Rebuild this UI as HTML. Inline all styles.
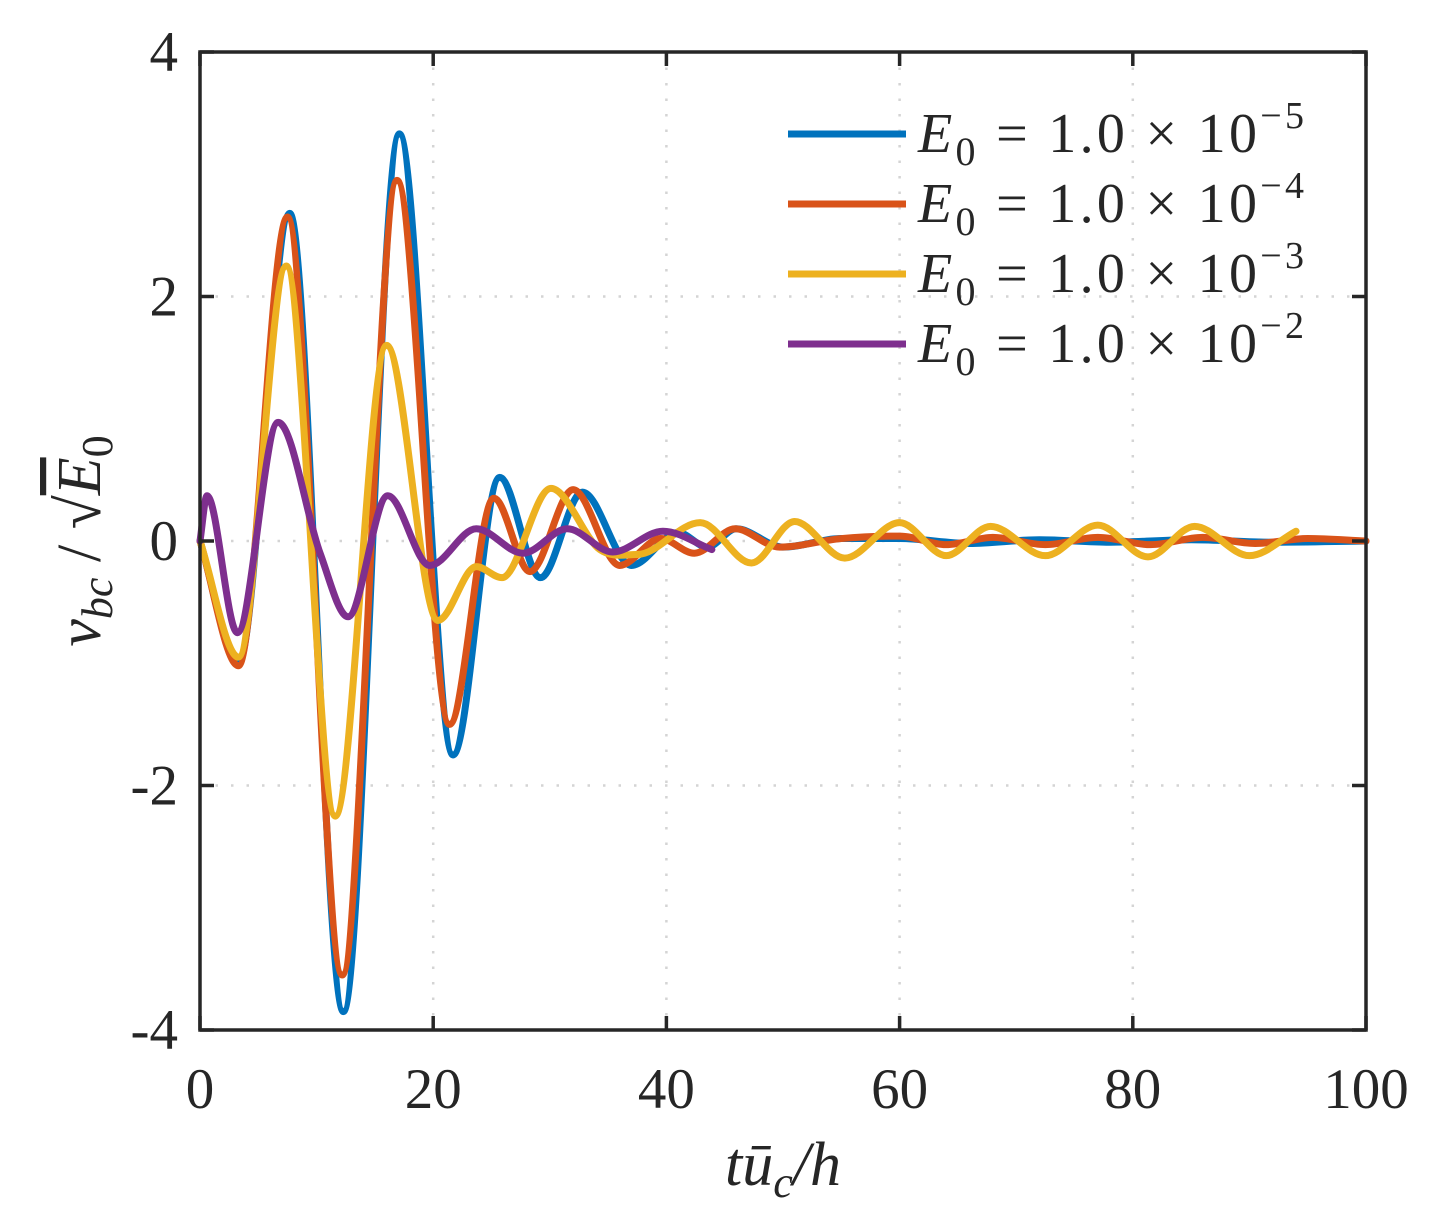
<!DOCTYPE html>
<html><head><meta charset="utf-8"><style>
html,body{margin:0;padding:0;background:#fff;}
svg{display:block;}
text{font-family:"Liberation Serif","DejaVu Serif",serif;fill:#262626;}
</style></head><body>
<svg id="chart" width="1431" height="1230" viewBox="0 0 1431 1230" xmlns="http://www.w3.org/2000/svg">
<g id="grid"></g>
<g id="series"></g>
<g id="axes"></g>
<g id="legend"></g>
<text x="783" y="1185" text-anchor="middle" font-size="62" font-style="italic">tū<tspan font-size="44" dy="12">c</tspan><tspan dy="-12">/h</tspan></text>
<g transform="translate(100,541) rotate(-90)">
<text x="0" y="0" text-anchor="middle" font-size="62" font-style="italic">v<tspan font-size="44" dy="12">bc</tspan><tspan dy="-12" font-style="normal"> / √</tspan><tspan text-decoration="overline">E</tspan><tspan font-size="44" dy="12" font-style="normal">0</tspan></text>
</g>
</svg>
<script>
const xTicks=[0,20,40,60,80,100];
const yTicks=[-4,-2,0,2,4];
const seriesNames=["E0=1e-5","E0=1e-4","E0=1e-3","E0=1e-2"];
const seriesColors=["#0072BD","#D95319","#EDB120","#7E2F8E"];
const legendExps=["−5","−4","−3","−2"];
const blueX=[0,3.3,7.7,12.3,17.1,21.7,25.7,29.2,32.8,37,41,43.5,46,50,55,60,66,72,78,85,92,100];
const blueY=[0,-1.0,2.68,-3.85,3.33,-1.75,0.52,-0.3,0.4,-0.2,0.07,-0.05,0.1,-0.05,0.02,0.02,-0.02,0.01,-0.01,0.01,-0.01,0];
const orangeX=[0,3.3,7.5,12.2,16.9,21.4,25.2,28.3,32,36,39.5,42.4,45.9,49.7,55,60,64,68,72.5,77,81.5,86,90.5,95,100];
const orangeY=[0,-1.02,2.65,-3.55,2.95,-1.5,0.35,-0.25,0.42,-0.2,0.02,-0.1,0.1,-0.05,0.02,0.04,-0.03,0.03,-0.03,0.03,-0.03,0.03,-0.02,0.02,0];
const yellowX=[0,3.3,7.4,11.6,16,20.4,23.7,25.9,30.1,34.3,37.5,42.9,47.3,51,55.3,60,64,67.8,72.5,77,81.3,85.3,90,94];
const yellowY=[0,-0.95,2.25,-2.25,1.6,-0.65,-0.21,-0.3,0.43,-0.07,-0.11,0.15,-0.18,0.16,-0.14,0.15,-0.12,0.12,-0.12,0.13,-0.13,0.12,-0.12,0.08];
const purpleX=[0,0.6,3.2,6.7,10.3,12.7,16.1,19.7,23.7,27.7,31.5,35.4,39.7,43.9];
const purpleY=[0,0.37,-0.75,0.97,-0.1,-0.62,0.37,-0.2,0.1,-0.1,0.1,-0.09,0.08,-0.07];
const seriesX=[blueX,orangeX,yellowX,purpleX];
const seriesY=[blueY,orangeY,yellowY,purpleY];

const L=200,R=1366,T=52,B=1030;
const sx=v=>L+(v-0)/(100-0)*(R-L);
const sy=v=>B-(v+4)/8*(B-T);
const NS="http://www.w3.org/2000/svg";
function mk(tag,parent){const e=document.createElementNS(NS,tag);parent.appendChild(e);return e;}

function pathFor(xs,ys){
  const px=xs.map(sx),py=ys.map(sy),n=px.length;
  const d=[],m=[];
  for(let i=0;i<n-1;i++)d.push((py[i+1]-py[i])/(px[i+1]-px[i]));
  for(let i=0;i<n;i++){
    if(i===0)m.push(d[0]);else if(i===n-1)m.push(d[n-2]);
    else m.push(d[i-1]*d[i]<=0?0:(d[i-1]+d[i])/2);
  }
  let s="M"+px[0]+","+py[0];
  for(let i=0;i<n-1;i++){
    const h=(px[i+1]-px[i])/3;
    s+=" C"+(px[i]+h)+","+(py[i]+m[i]*h)+" "+(px[i+1]-h)+","+(py[i+1]-m[i+1]*h)+" "+px[i+1]+","+py[i+1];
  }
  return s;
}

const grid=document.getElementById('grid');
xTicks.forEach(v=>{if(v===0||v===100)return;
  const l=mk('line',grid);
  
  
  l.setAttribute('x1',sx(v));l.setAttribute('x2',sx(v));l.setAttribute('y1',T);l.setAttribute('y2',B);
  l.setAttribute('stroke','#d4d4d4');l.setAttribute('stroke-width','2.5');l.setAttribute('stroke-dasharray','2.5,13');});
yTicks.forEach(v=>{if(v===-4||v===4)return;
  const l=mk('line',grid);
  
  
  l.setAttribute('x1',L);l.setAttribute('x2',R);l.setAttribute('y1',sy(v));l.setAttribute('y2',sy(v));
  l.setAttribute('stroke','#d4d4d4');l.setAttribute('stroke-width','2.5');l.setAttribute('stroke-dasharray','2.5,13');});

const sg=document.getElementById('series');
seriesX.forEach((xs,i)=>{
  const p=mk('path',sg);
  
  
  p.setAttribute('d',pathFor(xs,seriesY[i]));
  p.setAttribute('fill','none');p.setAttribute('stroke',seriesColors[i]);
  p.setAttribute('stroke-width','7');p.setAttribute('stroke-linejoin','round');p.setAttribute('stroke-linecap','round');
});

const ax=document.getElementById('axes');
const box=mk('rect',ax);


box.setAttribute('x',L);box.setAttribute('y',T);box.setAttribute('width',R-L);box.setAttribute('height',B-T);
box.setAttribute('fill','none');box.setAttribute('stroke','#262626');box.setAttribute('stroke-width','3.5');
xTicks.forEach(v=>{
  [[B,B-14],[T,T+14]].forEach(([a,b])=>{const t=mk('line',ax);
    
    
    t.setAttribute('x1',sx(v));t.setAttribute('x2',sx(v));t.setAttribute('y1',a);t.setAttribute('y2',b);
    t.setAttribute('stroke','#262626');t.setAttribute('stroke-width','3.5');});
  const lb=mk('text',ax);
  
  
  lb.setAttribute('x',sx(v));lb.setAttribute('y',1108);lb.setAttribute('text-anchor','middle');lb.setAttribute('font-size','57');
  lb.textContent=v;
});
yTicks.forEach(v=>{
  [[L,L+14],[R,R-14]].forEach(([a,b])=>{const t=mk('line',ax);
    
    
    t.setAttribute('x1',a);t.setAttribute('x2',b);t.setAttribute('y1',sy(v));t.setAttribute('y2',sy(v));
    t.setAttribute('stroke','#262626');t.setAttribute('stroke-width','3.5');});
  const lb=mk('text',ax);
  
  
  lb.setAttribute('x',178);lb.setAttribute('y',sy(v)+19);lb.setAttribute('text-anchor','end');lb.setAttribute('font-size','57');
  lb.textContent=v<0?'-'+Math.abs(v):v;
});

const lg=document.getElementById('legend');
seriesNames.forEach((nm,i)=>{
  const y=134+i*70;
  const l=mk('line',lg);
  
  
  l.setAttribute('x1',788);l.setAttribute('x2',906);l.setAttribute('y1',y);l.setAttribute('y2',y);
  l.setAttribute('stroke',seriesColors[i]);l.setAttribute('stroke-width','7');
  const t=mk('text',lg);
  
  
  t.setAttribute('x',918);t.setAttribute('y',y+18);t.setAttribute('font-size','56');
  t.setAttribute('textLength','386');t.setAttribute('lengthAdjust','spacing');
  t.innerHTML='<tspan font-style="italic">E</tspan><tspan font-size="40" dy="13">0</tspan><tspan dy="-13"> = 1.0 × 10</tspan><tspan font-size="38" dy="-24">'+legendExps[i]+'</tspan>';
});
</script>
</body></html>
